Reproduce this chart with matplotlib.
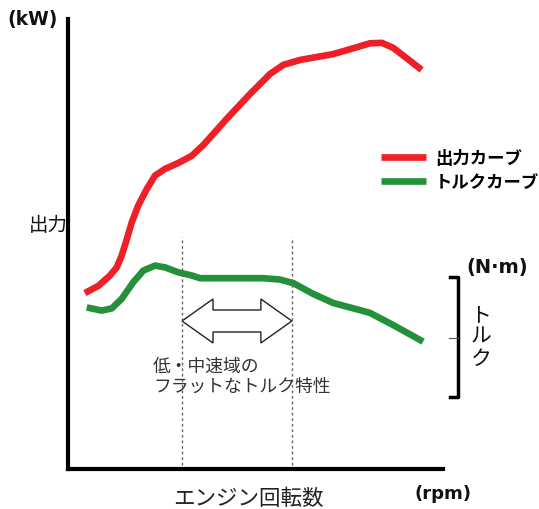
import matplotlib.pyplot as plt
from matplotlib.patches import Polygon

plt.rcParams['font.family'] = ['Noto Sans CJK JP', 'DejaVu Sans']

# engine speed (0-100 % of axis) and curve heights (0-100 % of axis)
power_x = [4.5, 8.1, 11.2, 13.0, 14.3, 15.7, 17.0, 18.7, 21.0, 23.2, 25.9, 29.4,
           33.0, 36.1, 42.3, 48.5, 53.9, 57.4, 61.9, 70.7, 76.1, 80.5, 83.7,
           86.7, 90.3, 94.3]
power_y = [39.1, 40.7, 43.0, 44.8, 47.4, 51.1, 54.8, 58.5, 62.2, 65.2, 66.7, 68.0,
           69.6, 72.0, 77.8, 83.3, 87.8, 89.8, 90.9, 92.2, 93.5, 94.6, 94.7,
           93.6, 91.3, 88.7]
torque_x = [5.0, 9.0, 11.7, 14.3, 17.4, 20.1, 23.2, 25.9, 29.4, 33.0, 35.2, 43.2,
            52.1, 56.5, 60.1, 65.4, 70.7, 75.2, 80.5, 86.7, 94.7]
torque_y = [35.9, 35.2, 35.7, 37.8, 41.5, 44.1, 45.2, 44.8, 43.7, 43.0, 42.4, 42.4,
            42.4, 42.1, 41.3, 38.9, 36.9, 35.9, 34.7, 32.0, 28.3]
flat_range = [30.4, 59.7]

RED = '#ee1f26'
GREEN = '#24913a'

fig = plt.figure(figsize=(5.39, 5.10), dpi=100)


def fx(px):
    return px / 539


def fy(py):
    return 1 - py / 510


ax = fig.add_axes([fx(68), fy(470), (443 - 68) / 539, (470 - 20) / 510])
ax.set_xlim(0, 100)
ax.set_ylim(0, 100)
ax.set_xticks([])
ax.set_yticks([])
for s in ['top', 'right']:
    ax.spines[s].set_visible(False)
for s in ['left', 'bottom']:
    ax.spines[s].set_linewidth(3)

ax.plot(power_x, power_y, color=RED, lw=4.8, solid_capstyle='butt',
        solid_joinstyle='round', label='出力カーブ')
ax.plot(torque_x, torque_y, color=GREEN, lw=4.8, solid_capstyle='butt',
        solid_joinstyle='round', label='トルクカーブ')

# flat torque band
for xv in flat_range:
    ax.plot([xv, xv], [1, 51.6], color='#666666', lw=1, ls=(0, (2, 2)))

# hollow double arrow
x0, x1 = flat_range
yc = (470 - 322) / 4.5
hh = 22 / 4.5
sh = 11 / 4.5
hw = 31 / 3.75
arrow = Polygon([(x0, yc), (x0 + hw, yc + hh), (x0 + hw, yc + sh), (x1 - hw, yc + sh),
                 (x1 - hw, yc + hh), (x1, yc), (x1 - hw, yc - hh), (x1 - hw, yc - sh),
                 (x0 + hw, yc - sh), (x0 + hw, yc - hh)],
                closed=True, facecolor='white', edgecolor='#222222', lw=1)
ax.add_patch(arrow)

fig.text(fx(153), fy(377), '低・中速域の\nフラットなトルク特性', fontsize=12.8,
         color='#333333', ha='left', va='center', linespacing=1.15)

# legend
ax.legend(loc='upper left', bbox_to_anchor=(fx(381), fy(150)),
          bbox_transform=fig.transFigure, frameon=False, borderpad=0,
          borderaxespad=0, handlelength=2.6, handletextpad=0.5,
          labelspacing=0.35, prop={'size': 12.5, 'weight': 'bold'})

# torque scale bracket
bx = 458
ax.plot([fx(450), fx(bx), fx(bx), fx(450)], [fy(278), fy(278), fy(398), fy(398)],
        color='black', lw=2.5, transform=fig.transFigure, clip_on=False)
ax.plot([fx(449), fx(bx)], [fy(339), fy(339)], color='#555555', lw=0.8,
        transform=fig.transFigure, clip_on=False)

fig.text(fx(7), fy(20), '(kW)', fontsize=13.5, fontweight='bold', family='DejaVu Sans',
         ha='left', va='center', color='#111111')
fig.text(fx(48), fy(226), '出力', fontsize=14, ha='center', va='center', color='#111111')
fig.text(fx(497), fy(268), '(N·m)', fontsize=14, fontweight='bold', family='DejaVu Sans',
         ha='center', va='center', color='#111111')
fig.text(fx(481), fy(337), 'ト\nル\nク', fontsize=15, ha='center', va='center',
         color='#111111', linespacing=1.0)
fig.text(fx(248), fy(499), 'エンジン回転数', fontsize=15.5, ha='center', va='center',
         color='#222222')
fig.text(fx(443), fy(494), '(rpm)', fontsize=13, fontweight='bold', family='DejaVu Sans',
         ha='center', va='center', color='#111111')

fig.savefig('out.png', dpi=100, facecolor='white')
